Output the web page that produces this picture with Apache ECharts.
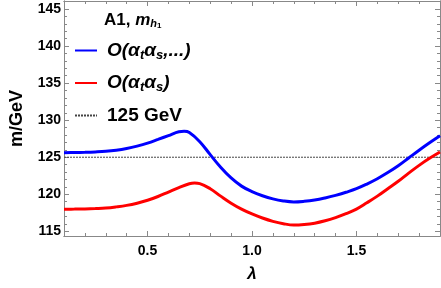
<!DOCTYPE html>
<html><head><meta charset="utf-8">
<script src="https://cdn.jsdelivr.net/npm/echarts@6/dist/echarts.min.js"></script>
<style>html,body{margin:0;padding:0;background:#fff}#c{width:441px;height:288px}</style>
</head><body><div id="c"></div>
<script>
const lambdaBlue = [0.10,0.15,0.20,0.25,0.30,0.35,0.40,0.45,0.50,0.55,0.60,0.65,0.675,0.70,0.75,0.80,0.85,0.90,0.95,1.00,1.05,1.10,1.15,1.20,1.25,1.30,1.35,1.40,1.45,1.50,1.55,1.60,1.65,1.70,1.75,1.80,1.85,1.90];
const blueVals   = [125.62,125.64,125.67,125.72,125.80,125.95,126.18,126.50,126.90,127.40,127.92,128.44,128.50,128.34,127.10,125.35,123.65,122.20,121.10,120.35,119.80,119.38,119.10,118.97,119.05,119.22,119.50,119.85,120.27,120.75,121.38,122.10,122.93,123.85,124.90,125.95,126.95,127.90];
const lambdaRed  = [0.10,0.15,0.20,0.25,0.30,0.35,0.40,0.45,0.50,0.55,0.60,0.65,0.70,0.725,0.75,0.80,0.85,0.90,0.95,1.00,1.05,1.10,1.15,1.20,1.25,1.30,1.35,1.40,1.45,1.50,1.55,1.60,1.65,1.70,1.75,1.80,1.85,1.90];
const redVals    = [117.98,118.00,118.03,118.08,118.15,118.30,118.50,118.80,119.20,119.70,120.30,120.90,121.42,121.52,121.44,120.75,119.75,118.80,118.00,117.35,116.80,116.35,116.03,115.85,115.92,116.10,116.42,116.85,117.38,118.00,118.85,119.75,120.75,121.75,122.85,123.90,124.85,125.70];
const refLevel = 125;
const xMajor = [0.5, 1.0, 1.5];
const xMinor = [0.1,0.2,0.3,0.4,0.5,0.6,0.7,0.8,0.9,1.0,1.1,1.2,1.3,1.4,1.5,1.6,1.7,1.8,1.9];
const yMajor = [115, 120, 125, 130, 135, 140, 145];
const yMinor = [115,116,117,118,119,120,121,122,123,124,125,126,127,128,129,130,131,132,133,134,135,136,137,138,139,140,141,142,143,144,145,146];
const names = ['O(αtαs,...)', 'O(αtαs)', '125 GeV'];

const FONT = '"Liberation Sans", Arial, sans-serif';
const frame = '#888';
const xRange = {min: 0.1, max: 1.9};
const yRange = {min: 114.37, max: 146.08};

function xAx(pos, vals, len, labels) {
  return Object.assign({type: 'value', position: pos}, xRange, {
    axisLine: {show: true, lineStyle: {color: frame, width: 1}},
    axisTick: {show: true, inside: true, length: len, customValues: vals, lineStyle: {color: frame}},
    axisLabel: labels ? {show: true, customValues: xMajor, margin: 8, color: '#000', fontSize: 14, fontWeight: 'bold', fontFamily: FONT,
      formatter: v => v.toFixed(1)} : {show: false},
    splitLine: {show: false}
  });
}
function yAx(pos, vals, len, labels) {
  return Object.assign({type: 'value', position: pos}, yRange, {
    axisLine: {show: true, lineStyle: {color: frame, width: 1}},
    axisTick: {show: true, inside: true, length: len, customValues: vals, lineStyle: {color: frame}},
    axisLabel: labels ? {show: true, customValues: yMajor, margin: 3, color: '#000', fontSize: 14, fontWeight: 'bold', fontFamily: FONT,
      formatter: v => String(Math.round(v))} : {show: false},
    splitLine: {show: false}
  });
}

const xAxes = [xAx('bottom', xMajor, 5, true), xAx('bottom', xMinor, 3, false), xAx('top', xMajor, 5, false), xAx('top', xMinor, 3, false)];
xAxes[0].name = 'λ';
xAxes[0].nameLocation = 'middle';
xAxes[0].nameGap = 30;
xAxes[0].nameTextStyle = {fontSize: 17, fontWeight: 'bold', fontStyle: 'italic', color: '#000', fontFamily: FONT};
const yAxes = [yAx('left', yMajor, 5, true), yAx('left', yMinor, 3, false), yAx('right', yMajor, 5, false), yAx('right', yMinor, 3, false)];
yAxes[0].name = 'm/GeV';
yAxes[0].nameLocation = 'middle';
yAxes[0].nameGap = 38;
yAxes[0].nameTextStyle = {fontSize: 18, fontWeight: 'bold', color: '#000', fontFamily: FONT};

const it = {fontSize: 19, fontStyle: 'italic', fontWeight: 'bold', color: '#000', fontFamily: FONT};
const sub = {fontSize: 13, fontStyle: 'italic', fontWeight: 'bold', color: '#000', fontFamily: FONT, padding: [9, 0, 0, 0]};
const legendRich = {
  g: {width: 5},
  i: it,
  s: sub,
  b: {fontSize: 19, fontWeight: 'bold', color: '#000', fontFamily: FONT}
};
const legendText = {};
legendText[names[0]] = '{g|}{i|O(α}{s|t}{i|α}{s|s}{i|,...)}';
legendText[names[1]] = '{g|}{i|O(α}{s|t}{i|α}{s|s}{i|)}';
legendText[names[2]] = '{g|}{b|125 GeV}';

const chart = echarts.init(document.getElementById('c'), null, {renderer: 'canvas'});
chart.setOption({
  animation: false,
  backgroundColor: '#fff',
  grid: {left: 55, right: 1, top: 1, bottom: 51},
  title: {
    text: '{b|A1, }{i|m}{s|h}{ss|1}',
    left: 99, top: 5,
    textStyle: {rich: {
      b: {fontSize: 17, fontWeight: 'bold', color: '#000', fontFamily: FONT},
      i: {fontSize: 17, fontWeight: 'bold', fontStyle: 'italic', color: '#000', fontFamily: FONT},
      s: {fontSize: 11, fontWeight: 'bold', fontStyle: 'italic', color: '#000', fontFamily: FONT, padding: [8, 0, 0, 0]},
      ss: {fontSize: 8, fontWeight: 'bold', color: '#000', fontFamily: FONT, padding: [12, 0, 0, 0]}
    }}
  },
  legend: {
    orient: 'vertical', left: 69, top: 36,
    itemWidth: 22, itemHeight: 14, itemGap: 12,
    data: names,
    itemStyle: {opacity: 0},
    formatter: n => legendText[n],
    textStyle: {rich: legendRich}
  },
  xAxis: xAxes,
  yAxis: yAxes,
  series: [
    {name: names[0], type: 'line', smooth: 0.4, symbol: 'none', data: lambdaBlue.map((x, i) => [x, blueVals[i]]),
      lineStyle: {color: '#0000ff', width: 3}, itemStyle: {color: '#0000ff'}, z: 3},
    {name: names[1], type: 'line', smooth: 0.4, symbol: 'none', data: lambdaRed.map((x, i) => [x, redVals[i]]),
      lineStyle: {color: '#ff0000', width: 3}, itemStyle: {color: '#ff0000'}, z: 3},
    {name: names[2], type: 'line', symbol: 'none', data: [[xRange.min, refLevel], [xRange.max, refLevel]],
      lineStyle: {color: '#444', width: 1, type: [2, 1]}, itemStyle: {color: '#444'}, z: 2}
  ]
});
</script></body></html>
